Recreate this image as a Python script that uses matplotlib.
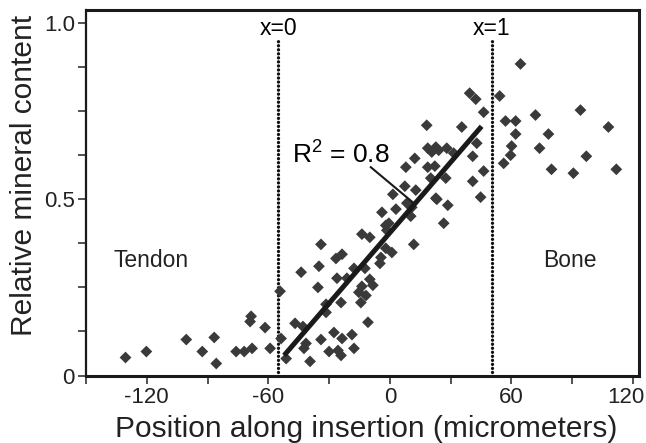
import matplotlib
matplotlib.use('Agg')
import matplotlib.pyplot as plt
from matplotlib.ticker import MultipleLocator, FixedLocator
from matplotlib.transforms import ScaledTranslation

plt.rcParams['font.family'] = ['Liberation Sans', 'DejaVu Sans']
plt.rcParams['mathtext.default'] = 'regular'

# position along insertion (micrometers) and relative mineral content
pos = [-130.5, -120.2, -100.5, -92.6, -86.7, -85.7, -75.9, -71.9, -68.0, -69.0,
       -68.5, -61.6, -59.1, -54.2, -53.7, -51.2,
       -34.0, -43.8, -35.0, -35.5, -26.6, -23.6, -26.1, -13.8, -9.9, -2.0,
       -2.0, -4.4, -4.9, -17.7, -21.2, -12.3, -9.9, -8.4, -13.8, -15.3,
       -11.8, -14.3, -24.1, -31.5, -31.5, -46.8, -42.9, -10.8, -27.6, -23.6,
       -18.7, -34.0, -41.4, -42.4, -17.7, -30.0, -25.6, -24.1, -39.4,
       7.4, 1.5, 12.8, 8.4, 10.8, 23.2, 28.6, 26.6, 11.8, 10.3,
       -3.9, 3.0, 40.9, 44.8, -0.5, -1.5, 1.0, 22.7,
       39.4, 42.4, 46.3, 54.2, 18.2, 35.5, 42.9, 40.9, 18.7, 22.7,
       24.1, 28.1, 20.7, 31.5, 12.3, 7.9, 18.7, 22.2, 20.2, 27.6, 46.3,
       64.5, 57.1, 62.1, 71.9, 94.1, 107.9, 62.1, 78.3, 60.1, 73.9,
       59.6, 97.0, 56.2, 79.8, 90.6, 111.8]
mineral = [0.051, 0.068, 0.102, 0.068, 0.108, 0.034, 0.068, 0.068, 0.077, 0.153,
           0.168, 0.136, 0.077, 0.239, 0.105, 0.048,
           0.372, 0.293, 0.310, 0.250, 0.332, 0.344, 0.276, 0.401, 0.392, 0.426,
           0.361, 0.335, 0.318, 0.304, 0.276, 0.304, 0.273, 0.256, 0.253, 0.236,
           0.227, 0.207, 0.207, 0.202, 0.179, 0.148, 0.139, 0.151, 0.122, 0.105,
           0.116, 0.102, 0.091, 0.077, 0.077, 0.068, 0.071, 0.057, 0.040,
           0.537, 0.514, 0.526, 0.489, 0.477, 0.500, 0.483, 0.432, 0.372, 0.452,
           0.463, 0.472, 0.551, 0.506, 0.432, 0.412, 0.349, 0.503,
           0.801, 0.784, 0.747, 0.793, 0.710, 0.705, 0.659, 0.622, 0.645, 0.648,
           0.639, 0.645, 0.634, 0.631, 0.616, 0.591, 0.591, 0.594, 0.560, 0.560, 0.580,
           0.884, 0.722, 0.722, 0.739, 0.753, 0.705, 0.685, 0.685, 0.651, 0.645,
           0.625, 0.622, 0.602, 0.585, 0.574, 0.585]

# linear fit drawn across the gradient region
fit_x = [-52.2, 45.3]
fit_y = [0.057, 0.707]
fit_label = 'R$^{2}$ = 0.8'

# boundaries of the insertion
bounds = [-55, 50.4]
bound_labels = ['x=0', 'x=1']

fig = plt.figure(figsize=(6.46, 4.43), dpi=100)
ax = fig.add_axes([86/646, 1 - 375.5/443, 553/646, 365.5/443])

ax.scatter(pos, mineral, marker='D', s=36, color='#3a3a3a', edgecolors='none', zorder=3)
ax.plot(fit_x, fit_y, color='#1a1a1a', lw=3.6, solid_capstyle='butt', zorder=4)
ax.plot([-9.4, 11.8], [0.591, 0.489], color='#1a1a1a', lw=1.5, zorder=4)
ax.text(-48.3, 0.602, fit_label, fontsize=19, ha='left', va='baseline')

for b, lab in zip(bounds, bound_labels):
    ax.plot([b, b], [0, 0.957], color='#111111', lw=2.4,
            linestyle=(0, (0.01, 1.2)), dash_capstyle='round', zorder=2)
    ax.text(b, 0.966, lab, fontsize=16.5, ha='center', va='baseline')

ax.text(-117.7, 0.307, 'Tendon', fontsize=16.5, ha='center', va='baseline', color='#222222')
ax.text(88.7, 0.307, 'Bone', fontsize=16.5, ha='center', va='baseline', color='#222222')

ax.set_xlim(-150, 123)
ax.set_ylim(0, 1.037)
ax.set_xticks([-120, -60, 0, 60, 120])
ax.set_xticklabels(['-120', '-60', '0', '60', '120'])
ax.xaxis.set_minor_locator(FixedLocator([-150, -90, -30, 30, 90]))
ax.set_yticks([0, 0.5, 1.0])
ax.set_yticklabels(['0', '0.5', '1.0'])
ax.yaxis.set_minor_locator(MultipleLocator(0.125))

ax.tick_params(which='both', direction='out', length=6, width=1.1, color='#222222',
               labelsize=16, labelcolor='#222222', pad=2)
# last x label sits a bit left so it stays inside the figure
last = ax.xaxis.get_major_ticks()[-1].label1
last.set_transform(last.get_transform() + ScaledTranslation(-0.07, 0, fig.dpi_scale_trans))

for side in ['top', 'bottom', 'right']:
    ax.spines[side].set_linewidth(2.2)
ax.spines['left'].set_linewidth(1.6)
for s in ax.spines.values():
    s.set_color('#1a1a1a')

fig.text(366.5/646, 1 - 437/443, 'Position along insertion (micrometers)',
         fontsize=21.5, color='#222222', ha='center', va='baseline')
fig.text(32/646, 1 - 175/443, 'Relative mineral content', fontsize=21.5, color='#222222',
         rotation=90, rotation_mode='anchor', ha='center', va='baseline')

fig.savefig('out.png', dpi=100)
